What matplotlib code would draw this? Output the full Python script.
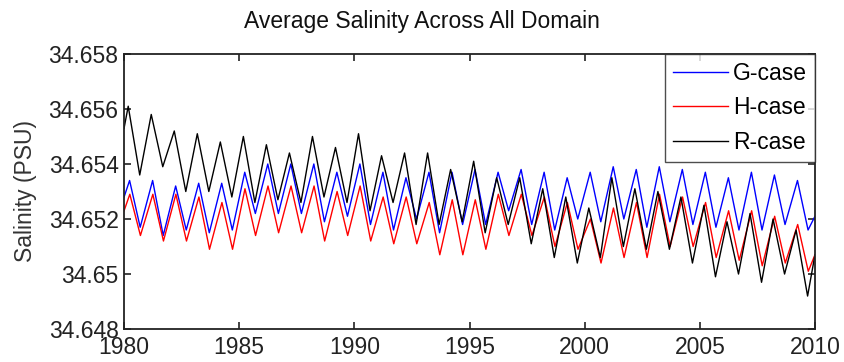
import numpy as np
import matplotlib
matplotlib.use("Agg")
import matplotlib.pyplot as plt

plt.rcParams['font.family'] = ['Liberation Sans', 'DejaVu Sans']

years = np.arange(1980, 2010)

# yearly maxima / minima (PSU)
g_start, g_end = 34.6528, 34.6521
g_peak = [34.6534, 34.6534, 34.6532, 34.6533, 34.6533, 34.6537, 34.6540, 34.6540, 34.6540, 34.6537,
          34.6540, 34.6537, 34.6535, 34.6537, 34.6537, 34.6538, 34.6537, 34.6538, 34.6537, 34.6535,
          34.6537, 34.6539, 34.6538, 34.6539, 34.6538, 34.6537, 34.6535, 34.6537, 34.6536, 34.6534]
g_trough = [34.6517, 34.6514, 34.6516, 34.6515, 34.6516, 34.6522, 34.6522, 34.6522, 34.6519, 34.6521,
            34.6518, 34.6516, 34.6520, 34.6515, 34.6518, 34.6518, 34.6523, 34.6518, 34.6516, 34.6520,
            34.6519, 34.6520, 34.6517, 34.6519, 34.6518, 34.6517, 34.6516, 34.6516, 34.6518, 34.6516]

h_start, h_end = 34.6523, 34.6507
h_peak = [34.6529, 34.6529, 34.6529, 34.6528, 34.6526, 34.6531, 34.6532, 34.6532, 34.6532, 34.6530,
          34.6532, 34.6528, 34.6528, 34.6526, 34.6527, 34.6527, 34.6529, 34.6529, 34.6528, 34.6526,
          34.6520, 34.6524, 34.6526, 34.6529, 34.6528, 34.6526, 34.6523, 34.6523, 34.6521, 34.6518]
h_trough = [34.6514, 34.6512, 34.6512, 34.6509, 34.6509, 34.6514, 34.6515, 34.6515, 34.6512, 34.6514,
            34.6512, 34.6511, 34.6511, 34.6507, 34.6507, 34.6509, 34.6514, 34.6514, 34.6510, 34.6509,
            34.6504, 34.6506, 34.6506, 34.6510, 34.6510, 34.6506, 34.6505, 34.6503, 34.6504, 34.6501]

r_start, r_end = 34.6553, 34.6507
r_peak = [34.6561, 34.6558, 34.6552, 34.6551, 34.6548, 34.6550, 34.6547, 34.6544, 34.6550, 34.6546,
          34.6551, 34.6543, 34.6544, 34.6544, 34.6538, 34.6541, 34.6535, 34.6535, 34.6531, 34.6528,
          34.6524, 34.6535, 34.6531, 34.6530, 34.6528, 34.6525, 34.6519, 34.6522, 34.6520, 34.6516]
r_trough = [34.6536, 34.6539, 34.6530, 34.6530, 34.6528, 34.6526, 34.6527, 34.6526, 34.6528, 34.6526,
            34.6523, 34.6526, 34.6518, 34.6518, 34.6519, 34.6515, 34.6518, 34.6511, 34.6506, 34.6504,
            34.6506, 34.6510, 34.6509, 34.6509, 34.6504, 34.6499, 34.6500, 34.6497, 34.6500, 34.6492]

# time of year of max / min
g_phase = (0.24, 0.70)
h_phase = (0.25, 0.71)
r_phase = (0.18, 0.68)


def build(start, end, peak, trough, phase):
    t = np.column_stack([years + phase[0], years + phase[1]]).ravel()
    v = np.column_stack([peak, trough]).ravel()
    t = np.concatenate([[1980.0], t, [2010.0]])
    v = np.concatenate([[start], v, [end]])
    return t, v


fig = plt.figure(figsize=(8.44, 3.62), dpi=100)
ax = fig.add_axes([0.147, 0.091, 0.8186, 0.76])

t, v = build(g_start, g_end, g_peak, g_trough, g_phase)
ax.plot(t, v, c="blue", lw=1.0, label="G-case")
t, v = build(h_start, h_end, h_peak, h_trough, h_phase)
ax.plot(t, v, c="red", lw=1.0, label="H-case")
t, v = build(r_start, r_end, r_peak, r_trough, r_phase)
ax.plot(t, v, c="black", lw=1.0, label="R-case")

ax.set_xlim(1980, 2010)
ax.set_ylim(34.648, 34.658)
ax.set_xticks(np.arange(1980, 2011, 5))
yt = [34.648, 34.65, 34.652, 34.654, 34.656, 34.658]
ax.set_yticks(yt)
ax.set_yticklabels([f"{y:g}" for y in yt])
ax.tick_params(direction="in", top=True, right=True, length=5, width=1.2,
               labelsize=16.5, colors="#222222")
ax.tick_params(axis="x", pad=5)
ax.tick_params(axis="y", pad=4)
for s in ax.spines.values():
    s.set_linewidth(1.3)
    s.set_color("#222222")

ax.set_ylabel("Salinity (PSU)", fontsize=16.5, color="#333333", labelpad=8)
# title sits centred on the figure, not on the axes
fig.suptitle("Average Salinity Across All Domain", x=0.5, y=0.94, va="center",
             fontsize=16.5, color="#111111")

leg = ax.legend(loc="upper right", borderaxespad=0, fontsize=16.5, handlelength=2.4,
                handletextpad=0.2, labelspacing=0.5, fancybox=False, borderpad=0.35)
leg.get_frame().set_edgecolor("#222222")
leg.get_frame().set_linewidth(1.0)

fig.savefig("out.png", dpi=100)
